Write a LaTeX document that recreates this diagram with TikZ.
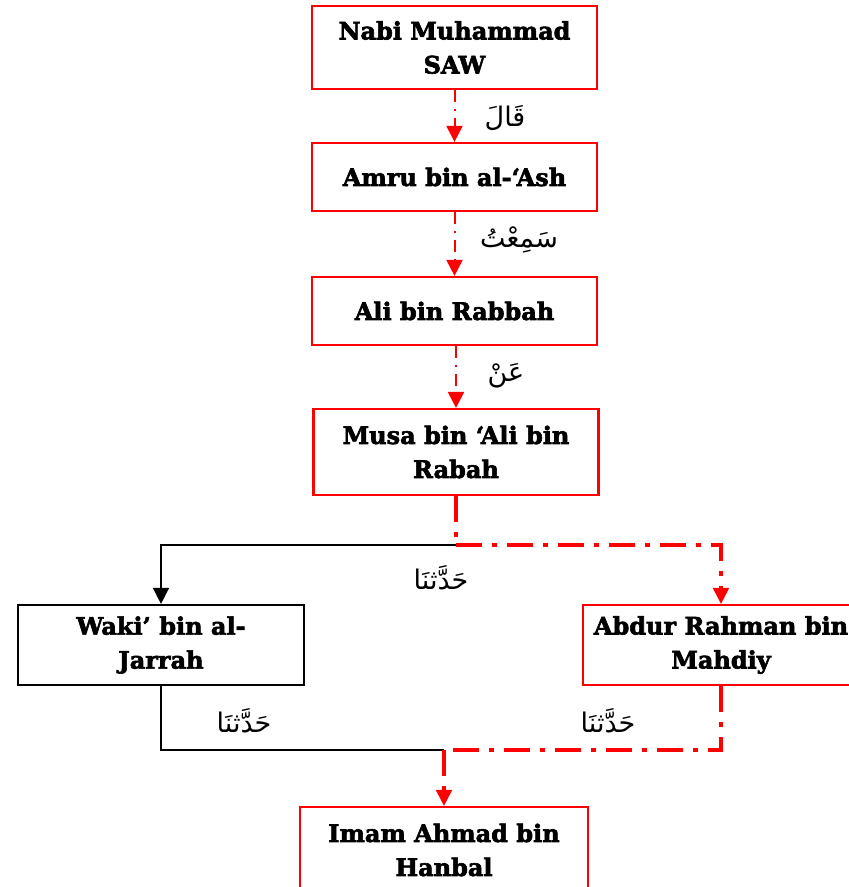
\documentclass[tikz,border=0pt]{standalone}
\usepackage{fontspec}
\newfontfamily\namefont{DejaVu Serif}[UprightFont={* Bold}, FakeBold=2.5, Ligatures=TeX]
\newfontfamily\arabicfont[Script=Arabic]{DejaVu Sans}
\TeXXeTstate=1
\usetikzlibrary{arrows.meta}
\definecolor{chainred}{RGB}{255,0,0}
\tikzset{
  namebox/.style={draw=chainred, line width=2.2pt, rectangle, align=center,
    font=\namefont\fontsize{24}{34}\selectfont, text=black, inner sep=0pt},
  blackbox/.style={namebox, draw=black},
  thinlink/.style={draw=chainred, line width=2pt,
    dash pattern=on 12pt off 7pt on 2pt off 7pt,
    -{Triangle[width=16pt,length=16pt]}},
  thicklink/.style={draw=chainred, line width=3.5pt,
    dash pattern=on 26pt off 10pt on 5pt off 10pt},
  solidlink/.style={draw=black, line width=1.5pt},
  tip/.style={-{Triangle[width=16pt,length=16pt]}},
  sigh/.style={font=\arabicfont\fontsize{27}{30}\selectfont}
}
\begin{document}
\begin{tikzpicture}[x=1pt,y=-1pt]
\useasboundingbox[fill=white] (0,0) rectangle (849,887);

% chain of narrators
\node[namebox, minimum width=285pt, minimum height=83pt] (nabi) at (454.5,47.5) {Nabi Muhammad\\SAW};
\node[namebox, minimum width=285pt, minimum height=68pt] (amru) at (454.5,177) {Amru bin al-‘Ash};
\node[namebox, minimum width=285pt, minimum height=68pt] (ali) at (454.5,311) {Ali bin Rabbah};
\node[namebox, minimum width=285pt, minimum height=86pt] (musa) at (456,452) {Musa bin ‘Ali bin\\Rabah};
\node[blackbox, minimum width=286pt, minimum height=80pt] (waki) at (161,645) {Waki’ bin al-\\Jarrah};
\node[namebox, minimum width=276pt, minimum height=80pt] (abdur) at (721,645) {Abdur Rahman bin\\Mahdiy};
\node[namebox, minimum width=288pt, minimum height=86pt] (imam) at (444,850) {Imam Ahmad bin\\Hanbal};

% branching and joining points
\coordinate (split) at (456,545);
\coordinate (join) at (444,750);

% links
\draw[thinlink] (nabi.south) -- (amru.north);
\draw[thinlink] (amru.south) -- (ali.north);
\draw[thinlink] (ali.south -| musa.north) -- (musa.north);
\draw[thicklink] (musa.south) -- (split);
\draw[solidlink, tip] (split) -| (waki.north);
\draw[thicklink] (split) -| ([yshift=16pt]abdur.north);
\draw[draw=chainred, line width=2pt, tip] ([yshift=17pt]abdur.north) -- (abdur.north);
\draw[solidlink] (waki.south) |- (join);
\draw[thicklink] (abdur.south) |- (join);
\draw[thicklink] (join) -- ([yshift=16pt]imam.north);
\draw[draw=chainred, line width=2pt, tip] ([yshift=17pt]imam.north) -- (imam.north);

% transmission terms
\node[sigh] (t1) at (505,118) {\beginR قَالَ\endR};
\node[sigh] (t2) at (519,240) {\beginR سَمِعْتُ\endR};
\node[sigh] (t3) at (506,376) {\beginR عَنْ\endR};
\node[sigh] (t4) at (441,578) {\beginR حَدَّثنَا\endR};
\node[sigh] (t5) at (244,721) {\beginR حَدَّثنَا\endR};
\node[sigh] (t6) at (608,721) {\beginR حَدَّثنَا\endR};
\end{tikzpicture}
\end{document}
